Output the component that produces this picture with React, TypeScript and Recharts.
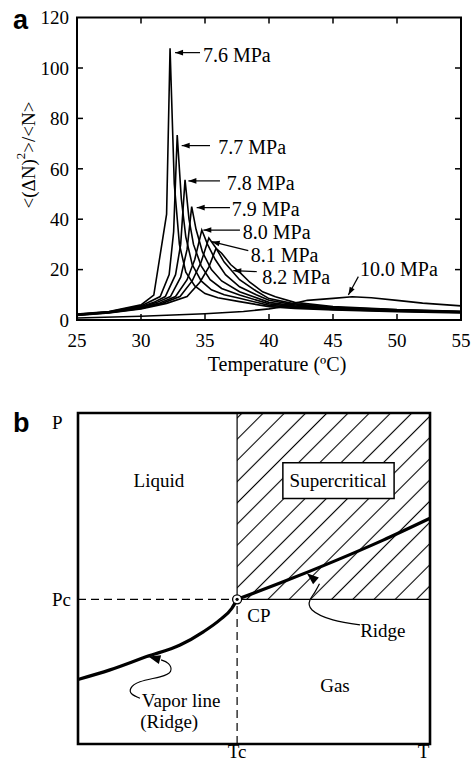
import React from "react";
import {
  LineChart,
  ComposedChart,
  Line,
  XAxis,
  YAxis,
  ReferenceLine,
  ReferenceArea,
  ReferenceDot,
} from "recharts";

const SERIF = '"Liberation Serif", "Times New Roman", Times, serif';
const SANS = '"Liberation Sans", Arial, Helvetica, sans-serif';
const FS = 19;

// ---------- panel a: <(dN)^2>/<N> against temperature ----------
const TEMP_TICKS = [25, 30, 35, 40, 45, 50, 55];
const FLUCT_TICKS = [0, 20, 40, 60, 80, 100, 120];

type Pt = [number, number];

const P76: Pt[] = [
  [25, 2.4], [27.5, 3.4], [30, 6], [31, 9.9], [32, 42], [32.27, 107.8],
  [32.6, 54], [33, 30], [33.5, 19], [34.2, 13.5], [35, 10.5], [36, 8.8],
  [37.7, 7.3], [40, 5.3], [42, 4.6], [45, 4], [50, 3.3], [55, 2.8],
];
const P77: Pt[] = [
  [25, 2.3], [27.5, 3.3], [30, 5.6], [31.5, 9.3], [32.2, 18], [32.55, 35], [32.83, 73.4],
  [33.15, 48], [33.5, 33], [34, 22], [34.7, 15.5], [35.5, 12], [36.5, 10],
  [37.7, 8.6], [40, 5.8], [42, 5], [45, 4.2], [50, 3.5], [55, 3],
];
const P78: Pt[] = [
  [25, 2.2], [27.5, 3.2], [30, 5.3], [31, 7], [31.9, 9.3], [32.7, 18], [33.1, 30], [33.44, 55.6],
  [33.75, 40], [34.1, 30], [34.7, 21.5], [35.4, 16], [36.3, 12.5], [37.7, 9.9],
  [40, 6.4], [42, 5.3], [45, 4.4], [50, 3.6], [55, 3.1],
];
const P79: Pt[] = [
  [25, 2.1], [27.5, 3.1], [30, 5], [31.2, 6.9], [32.3, 9.3], [33.1, 17], [33.6, 28], [33.96, 45],
  [34.3, 36], [34.8, 27], [35.5, 20], [36.3, 15.5], [37.7, 11.2], [40, 7],
  [42, 5.6], [45, 4.6], [50, 3.7], [55, 3.2],
];
const P80: Pt[] = [
  [25, 2], [27.5, 3], [30, 4.8], [31.5, 6.8], [32.7, 9.3], [33.6, 16], [34.2, 24], [34.75, 35.7],
  [35.2, 30], [35.8, 24], [36.6, 18], [37.7, 13.2], [39, 10], [40, 7.8],
  [42, 6], [45, 4.8], [50, 3.9], [55, 3.3],
];
const P81: Pt[] = [
  [25, 1.9], [27.5, 2.9], [30, 4.6], [31.7, 6.7], [33.05, 9.3], [34, 15.5], [34.7, 23], [35.3, 32.5],
  [35.8, 29], [36.5, 23], [37.7, 16], [39, 11.5], [40, 8.5], [42, 6.4],
  [45, 5], [50, 4], [55, 3.4],
];
const P82: Pt[] = [
  [25, 1.8], [27.5, 2.8], [30, 4.4], [32, 6.6], [33.6, 9.3], [34.6, 15], [35.3, 21], [35.86, 28.4],
  [36.3, 26.5], [37, 22], [37.7, 19], [38.5, 15], [39.5, 11.2], [40.5, 9.2],
  [42, 7], [45, 5.3], [50, 4.1], [55, 3.5],
];
const P100: Pt[] = [
  [25, 0.8], [30, 1.5], [35, 2.5], [38, 3.4], [40, 4.4], [41, 5.2], [42, 6.6],
  [43, 7.8], [45, 8.6], [46.5, 9.2], [48, 8.8], [50, 7.8], [52, 6.7], [55, 5.6],
];

const PRESSURES = ["7.6 MPa", "7.7 MPa", "7.8 MPa", "7.9 MPa", "8.0 MPa", "8.1 MPa", "8.2 MPa", "10.0 MPa"];
const CURVES = [P76, P77, P78, P79, P80, P81, P82, P100];

// label anchor (left edge, middle) and the arrow drawn from the label to its curve
const LABEL_AT: Pt[] = [
  [34.84, 105.2], [36.04, 68.8], [36.7, 54.4], [37.09, 43.9],
  [37.95, 34.8], [38.57, 25.8], [39.48, 17.2], [47.11, 20.1],
];
const ARROW_FROM: Pt[] = [
  [34.61, 106.1], [35.39, 69.2], [36.17, 55.2], [36.95, 44.6],
  [37.73, 35.7], [38.38, 27.5], [39.04, 19.2], [46.98, 17.2],
];
const ARROW_TO: Pt[] = [
  [32.66, 106.1], [33.18, 69.2], [33.7, 55.2], [34.35, 44.6],
  [34.87, 35.7], [35.52, 31.1], [37.21, 19.6], [46.2, 9.9],
];

// ---------- panel b: P-T sketch ----------
const TC = 45.2;
const PC = 43.7;
const VAPOR: Pt[] = [
  [0, 19.5], [9.1, 22.4], [19.5, 26.4], [29, 29.9], [35.6, 33.9], [40.3, 37.5], [43.7, 41], [45.2, 43.7],
];
const RIDGE: Pt[] = [[45.2, 43.7], [58.3, 49], [72.5, 55.1], [86.7, 61.6], [100, 68.2]];
const RIDGE_POINTER: Pt[] = [[80.1, 36], [72.4, 37.5], [66.5, 40.5], [65.9, 43.5], [67.3, 45.9], [68.6, 48.4]];
const RIDGE_TIP: Pt = [65, 51.6];
const VAPOR_POINTER: Pt[] = [
  [17.6, 13.8], [15.3, 15.1], [15, 16.8], [17.6, 18.8], [23.3, 20.3], [26.3, 22], [25.7, 24.3], [23.6, 25.4],
];
const VAPOR_TIP: Pt = [20, 26.4];
const REGION_NAMES = ["Liquid", "Supercritical", "Gas", "CP", "Ridge", "Vapor line", "(Ridge)"];
const REGION_AT: Pt[] = [
  [23, 79.8], [73.9, 79.8], [73, 17.8], [51.4, 39], [86.6, 34.4], [29.3, 13.3], [25.9, 6.9],
];
const SC_BOX = { x1: 58.2, x2: 89.8, y1: 74.2, y2: 85 };

const toRows = (pts: Pt[]) => pts.map(([t, v]) => ({ t, v }));

// filled arrowhead with its tip on the dot, pointing along angle (screen degrees)
function arrowHead(angle: number, len = 8, half = 2.8) {
  return (p: any) => {
    const a = (angle * Math.PI) / 180;
    const ux = Math.cos(a);
    const uy = Math.sin(a);
    const bx = p.cx - ux * len;
    const by = p.cy - uy * len;
    const pts = `${p.cx},${p.cy} ${bx - uy * half},${by + ux * half} ${bx + uy * half},${by - ux * half}`;
    return <polygon points={pts} fill="#000" />;
  };
}

function textAt(txt: string, anchor: "start" | "middle" = "middle", size = FS) {
  return (p: any) => (
    <text
      x={p.cx}
      y={p.cy}
      dy="0.35em"
      textAnchor={anchor}
      fontSize={size}
      fontFamily={SERIF}
      style={{ fontFamily: SERIF }}
      fill="#000"
    >
      {txt}
    </text>
  );
}

function angleOf(from: Pt, to: Pt, kx: number, ky: number) {
  const dx = (to[0] - from[0]) * kx;
  const dy = -(to[1] - from[1]) * ky;
  return (Math.atan2(dy, dx) * 180) / Math.PI;
}

const tickFont = { fill: "#000", fontSize: FS, fontFamily: SERIF, style: { fontFamily: SERIF } };

function PanelA() {
  const kx = 384 / 30;
  const ky = 302.4 / 120;
  const xIn = 6 / ky;
  const yIn = 6 / kx;
  return (
    <LineChart width={471} height={390} margin={{ top: 17.6, right: 10, bottom: 0, left: 0 }}>
      <XAxis
        type="number"
        dataKey="t"
        domain={[25, 55]}
        ticks={TEMP_TICKS}
        interval={0}
        height={70}
        axisLine={false}
        tickLine={false}
        tickSize={0}
        tickMargin={14}
        tick={tickFont}
        label={{
          content: () => (
            <text x={277} y={371} textAnchor="middle" fontSize={20} style={{ fontFamily: SERIF }} fill="#000">
              Temperature (ºC)
            </text>
          ),
        }}
      />
      <YAxis
        type="number"
        domain={[0, 120]}
        ticks={FLUCT_TICKS}
        interval={0}
        width={77}
        axisLine={false}
        tickLine={false}
        tickSize={0}
        tickMargin={8}
        tick={tickFont}
        label={{
          content: () => (
            <text
              transform="rotate(-90 28 155)"
              x={28}
              y={155}
              textAnchor="middle"
              dominantBaseline="central"
              fontSize={19}
              style={{ fontFamily: SERIF }}
              fill="#000"
            >
              {"<(ΔN)"}
              <tspan dy={-8} fontSize={13}>2</tspan>
              <tspan dy={8}>{">/<N>"}</tspan>
            </text>
          ),
        }}
      />
      <ReferenceArea x1={25} x2={55} y1={0} y2={120} fill="none" fillOpacity={0} stroke="#000" strokeWidth={2} />
      {TEMP_TICKS.slice(1, -1).map((t) => (
        <ReferenceLine key={`b${t}`} segment={[{ x: t, y: 0 }, { x: t, y: xIn }]} stroke="#000" strokeWidth={1.5} />
      ))}
      {TEMP_TICKS.slice(1, -1).map((t) => (
        <ReferenceLine key={`t${t}`} segment={[{ x: t, y: 120 }, { x: t, y: 120 - xIn }]} stroke="#000" strokeWidth={1.5} />
      ))}
      {FLUCT_TICKS.slice(1, -1).map((v) => (
        <ReferenceLine key={`l${v}`} segment={[{ x: 25, y: v }, { x: 25 + yIn, y: v }]} stroke="#000" strokeWidth={1.5} />
      ))}
      {FLUCT_TICKS.slice(1, -1).map((v) => (
        <ReferenceLine key={`r${v}`} segment={[{ x: 55, y: v }, { x: 55 - yIn, y: v }]} stroke="#000" strokeWidth={1.5} />
      ))}
      {CURVES.map((c, i) => (
        <Line
          key={PRESSURES[i]}
          data={toRows(c)}
          dataKey="v"
          type="linear"
          stroke="#000"
          strokeWidth={1.6}
          dot={false}
          activeDot={false}
          isAnimationActive={false}
        />
      ))}
      {ARROW_FROM.map((f, i) => (
        <ReferenceLine
          key={`a${i}`}
          segment={[{ x: f[0], y: f[1] }, { x: ARROW_TO[i][0], y: ARROW_TO[i][1] }]}
          stroke="#000"
          strokeWidth={1.2}
        />
      ))}
      {ARROW_TO.map((t, i) => (
        <ReferenceDot
          key={`h${i}`}
          x={t[0]}
          y={t[1]}
          r={0}
          shape={arrowHead(angleOf(ARROW_FROM[i], t, kx, ky))}
        />
      ))}
      {LABEL_AT.map((p, i) => (
        <ReferenceDot key={`n${i}`} x={p[0]} y={p[1]} r={0} shape={textAt(PRESSURES[i], "start", 20)} />
      ))}
    </LineChart>
  );
}

function PanelB() {
  const kx = 352 / 100;
  const ky = 331 / 100;
  const lastR = RIDGE_POINTER[RIDGE_POINTER.length - 1];
  const lastV = VAPOR_POINTER[VAPOR_POINTER.length - 1];
  return (
    <ComposedChart width={471} height={374} margin={{ top: 23, right: 41, bottom: 0, left: 0 }}>
      <defs>
        <pattern id="hatch" width="15" height="15" patternUnits="userSpaceOnUse" patternTransform="rotate(45)">
          <line x1="7.5" y1="0" x2="7.5" y2="15" stroke="#000" strokeWidth="1.1" />
        </pattern>
      </defs>
      <XAxis
        type="number"
        dataKey="t"
        domain={[0, 100]}
        ticks={[TC, 98.2]}
        interval={0}
        height={20}
        axisLine={false}
        tickLine={false}
        tickSize={0}
        tickMargin={1}
        tick={tickFont}
        tickFormatter={(v: number) => (v === TC ? "Tc" : "T")}
      />
      <YAxis
        type="number"
        domain={[0, 100]}
        ticks={[PC, 97.3]}
        interval={0}
        width={78}
        axisLine={false}
        tickLine={false}
        tick={(p: any) => (
          <text x={52} y={p.y} dy="0.35em" fontSize={FS} style={{ fontFamily: SERIF }} fill="#000">
            {p.payload.value === PC ? "Pc" : "P"}
          </text>
        )}
      />
      <ReferenceArea x1={TC} x2={100} y1={PC} y2={100} fill="url(#hatch)" fillOpacity={1} stroke="none" />
      <ReferenceArea
        x1={SC_BOX.x1}
        x2={SC_BOX.x2}
        y1={SC_BOX.y1}
        y2={SC_BOX.y2}
        fill="#fff"
        fillOpacity={1}
        stroke="#000"
        strokeWidth={1.5}
      />
      <ReferenceArea x1={0} x2={100} y1={0} y2={100} fill="none" fillOpacity={0} stroke="#000" strokeWidth={2.6} />
      <ReferenceLine segment={[{ x: 0, y: PC }, { x: TC, y: PC }]} stroke="#000" strokeWidth={1.2} strokeDasharray="8 5" />
      <ReferenceLine segment={[{ x: TC, y: 0 }, { x: TC, y: PC }]} stroke="#000" strokeWidth={1.2} strokeDasharray="8 5" />
      <ReferenceLine segment={[{ x: TC, y: PC }, { x: 100, y: PC }]} stroke="#000" strokeWidth={1.4} />
      <ReferenceLine segment={[{ x: TC, y: PC }, { x: TC, y: 100 }]} stroke="#000" strokeWidth={1.2} />
      <Line data={toRows(VAPOR)} dataKey="v" type="monotone" stroke="#000" strokeWidth={3.2} dot={false} activeDot={false} isAnimationActive={false} />
      <Line data={toRows(RIDGE)} dataKey="v" type="monotone" stroke="#000" strokeWidth={3.2} dot={false} activeDot={false} isAnimationActive={false} />
      <Line data={toRows(RIDGE_POINTER)} dataKey="v" type="natural" stroke="#000" strokeWidth={1.2} dot={false} activeDot={false} isAnimationActive={false} />
      <Line data={toRows(VAPOR_POINTER)} dataKey="v" type="natural" stroke="#000" strokeWidth={1.2} dot={false} activeDot={false} isAnimationActive={false} />
      <ReferenceDot x={RIDGE_TIP[0]} y={RIDGE_TIP[1]} r={0} shape={arrowHead(angleOf(lastR, RIDGE_TIP, kx, ky), 12, 4.5)} />
      <ReferenceDot x={VAPOR_TIP[0]} y={VAPOR_TIP[1]} r={0} shape={arrowHead(angleOf(lastV, VAPOR_TIP, kx, ky), 12, 4.5)} />
      <ReferenceDot
        x={TC}
        y={PC}
        r={0}
        shape={(p: any) => (
          <g>
            <circle cx={p.cx} cy={p.cy} r={4.5} fill="#fff" stroke="#000" strokeWidth={1.3} />
            <circle cx={p.cx} cy={p.cy} r={1.6} fill="#000" />
          </g>
        )}
      />
      {REGION_AT.map((p, i) => (
        <ReferenceDot key={REGION_NAMES[i]} x={p[0]} y={p[1]} r={0} shape={textAt(REGION_NAMES[i])} />
      ))}
    </ComposedChart>
  );
}

export default function App() {
  const letter: React.CSSProperties = {
    position: "absolute",
    left: 13,
    fontFamily: SANS,
    fontWeight: "bold",
    fontSize: 27,
    lineHeight: "27px",
  };
  return (
    <div
      style={{
        position: "relative",
        width: 471,
        height: 764,
        background: "#fff",
        overflow: "hidden",
        fontFamily: SERIF,
      }}
    >
      <style>{"body{margin:0}"}</style>
      <PanelA />
      <PanelB />
      <div style={{ ...letter, top: 7 }}>a</div>
      <div style={{ ...letter, top: 410 }}>b</div>
    </div>
  );
}
